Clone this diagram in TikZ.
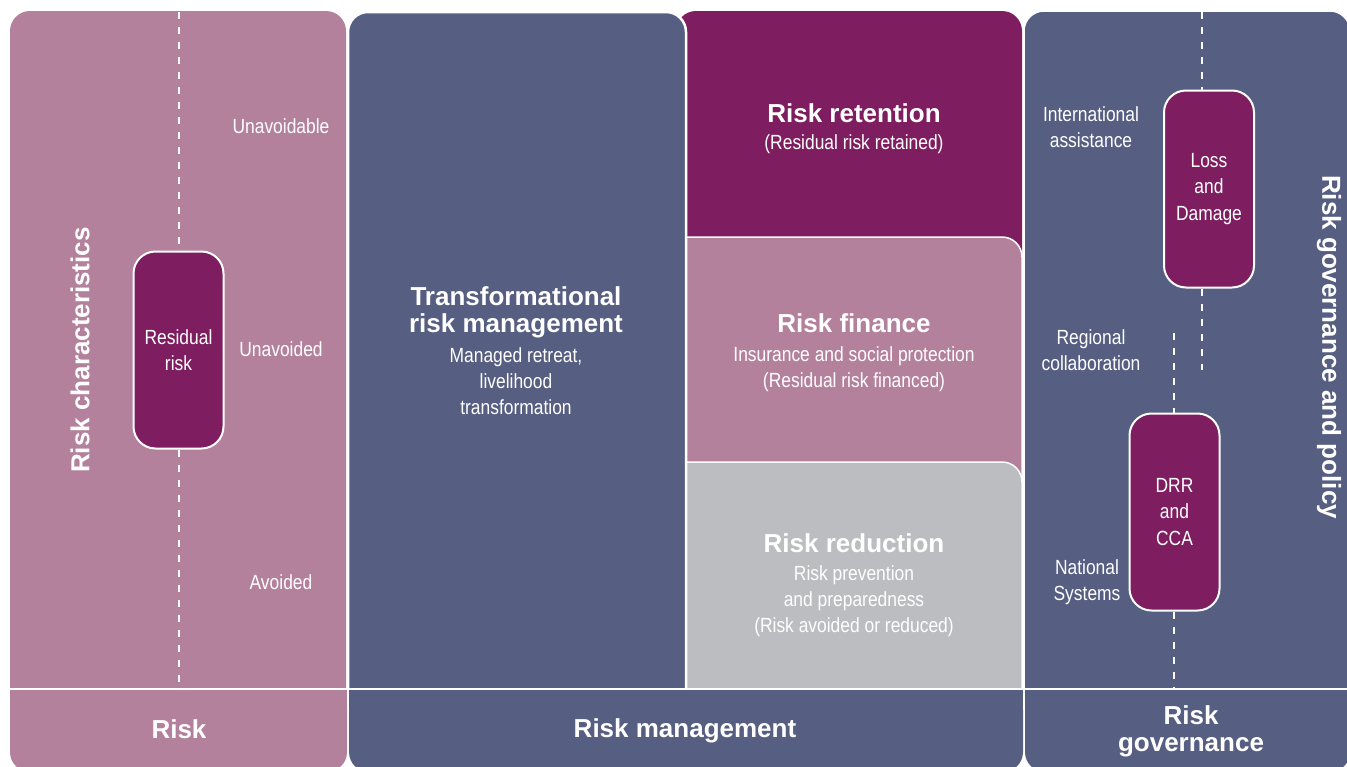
\documentclass[tikz,border=0pt]{standalone}
\usepackage{fontspec}
\setmainfont{Liberation Sans}
\newfontfamily\narrowf{Liberation Sans}[FakeStretch=0.85]
\definecolor{pinkc}{RGB}{180,129,156}
\definecolor{purplec}{RGB}{126,30,96}
\definecolor{bluec}{RGB}{86,94,130}
\definecolor{grayc}{RGB}{188,189,193}
\tikzset{
  lbl/.style={text=white, font=\narrowf\fontsize{20.5}{26.3}\selectfont, align=center, inner sep=0pt},
  ttl/.style={text=white, font=\bfseries\fontsize{26}{27}\selectfont, align=center, inner sep=0pt},
  rbox/.style={draw=white, line width=2pt, fill=purplec, rounded corners=22pt,
    minimum width=90pt, minimum height=197pt, inner sep=0pt, text=white,
    font=\narrowf\fontsize{20.5}{26.3}\selectfont, align=center},
  dashln/.style={white, line width=2.5pt, dash pattern=on 7pt off 8pt},
  panel/.style={rounded corners=20pt}
}
\begin{document}
\begin{tikzpicture}[x=1pt,y=-1pt]
\useasboundingbox (0,0) rectangle (1347,766);
\clip (0,0) rectangle (1347,766);
% upper panels
\path[panel, fill=pinkc] (10,11) rectangle (346,720);
\path[panel, fill=purplec] (676,11) rectangle (1022,720);
\path[panel, fill=pinkc, draw=white, line width=1.5pt] (640,237) rectangle (1022,720);
\path[panel, fill=grayc, draw=white, line width=1.5pt] (640,462) rectangle (1022,720);
\path[panel, fill=bluec, draw=white, line width=2.5pt] (348,12) rectangle (686,720);
\path[panel, fill=bluec, draw=white, line width=1.5pt] (1024,11) rectangle (1350,720);
% bottom bars (rounded at the bottom only)
\path[panel, fill=pinkc] (10,690) rectangle (347,772);
\fill[pinkc] (10,690) rectangle (347,730);
\path[panel, fill=bluec] (349,690) rectangle (1023,772);
\fill[bluec] (349,690) rectangle (1023,730);
\path[panel, fill=bluec] (1025,690) rectangle (1350,772);
\fill[bluec] (1025,690) rectangle (1350,730);
\draw[white, line width=2.5pt] (10,689) -- (1347,689);

% boxes
\node[rbox] (rr) at (178.5,350) {Residual\\risk};
\node[rbox] (ld) at (1209,189) {Loss\\and\\Damage};
\node[rbox] (drr) at (1174.5,512) {DRR\\and\\CCA};

% dashed lines
\coordinate (rtop) at (179,12);
\coordinate (rbot) at (179,689);
\draw[dashln] (rtop) -- (rtop |- rr.north);
\draw[dashln] (rr.south -| rtop) -- (rbot);
\coordinate (gtop) at (1202,12);
\coordinate (gmid) at (1202,370);
\draw[dashln] (gtop) -- (gtop |- ld.north);
\draw[dashln] (ld.south -| gtop) -- (gmid);
\coordinate (dtop) at (1174,333);
\coordinate (dbot) at (1174,689);
\draw[dashln] (dtop) -- (dtop |- drr.north);
\draw[dashln] (drr.south -| dtop) -- (dbot);

% left labels
\node[lbl] (unav) at (281,126) {Unavoidable};
\node[lbl] (unavd) at (281,349) {Unavoided};
\node[lbl] (avd) at (281,582) {Avoided};
\node[ttl, rotate=90] (rchar) at (80,350) {Risk characteristics};

% middle
\node[ttl] (trm) at (516,312) {Transformational\\risk management};
\node[lbl] (trmsub) at (516,381) {Managed retreat,\\livelihood\\transformation};
\node[ttl] (ret) at (854,113) {Risk retention};
\node[lbl] (retsub) at (854,144) {(Residual risk retained)};
\node[ttl] (fin) at (854,323) {Risk finance};
\node[lbl] (finsub) at (854,369) {Insurance and social protection\\(Residual risk financed)};
\node[ttl] (red) at (854,543) {Risk reduction};
\node[lbl] (redsub) at (854,601) {Risk prevention\\and preparedness\\(Risk avoided or reduced)};

% governance
\node[lbl] (intl) at (1091,127) {International\\assistance};
\node[lbl] (reg) at (1091,350) {Regional\\collaboration};
\node[lbl] (nat) at (1087,582) {National\\Systems};
\node[ttl, rotate=-90] (gov) at (1329,347) {Risk governance and policy};

% bottom
\node[ttl] (b1) at (179,729) {Risk};
\node[ttl] (b2) at (685,731) {Risk management};
\node[ttl] (b3) at (1191,731) {Risk\\governance};
\end{tikzpicture}
\end{document}
